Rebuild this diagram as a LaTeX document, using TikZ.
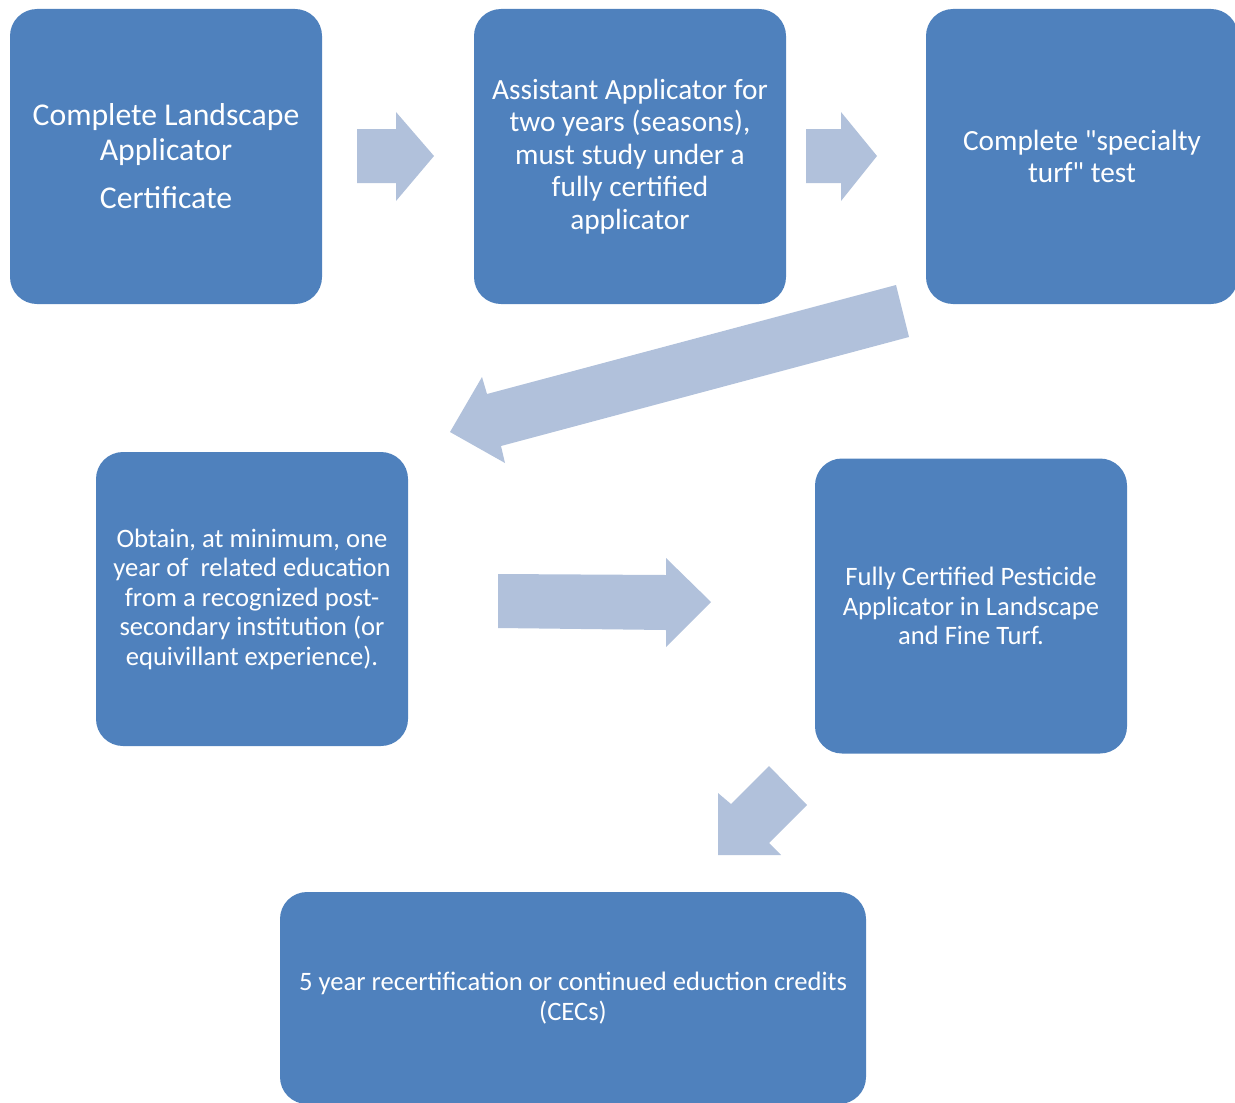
\documentclass[tikz,border=0pt]{standalone}
\usepackage{fontspec}
\setmainfont{Carlito}[Ligatures=TeXOff]
\usetikzlibrary{positioning}
\definecolor{boxblue}{HTML}{4F81BD}
\definecolor{arrowblue}{HTML}{B1C1DB}

\begin{document}
\begin{tikzpicture}[x=0.5pt,y=-0.5pt]
\tikzstyle{stage}=[fill=boxblue, rounded corners=13.5pt, inner sep=0pt, align=center, text=white, minimum width=156pt, minimum height=147.5pt]
\tikzstyle{bigtext}=[font=\fontsize{15.85}{17.5}\selectfont]
\tikzstyle{midtext}=[font=\fontsize{14.65}{16.25}\selectfont]
\tikzstyle{smalltext}=[font=\fontsize{13.3}{14.75}\selectfont]
\useasboundingbox (0,0) rectangle (1235,1102);
\node [stage, bigtext] (cert) at (166,156.5) {Complete Landscape\\Applicator\\[6.5pt]Certificate};
\node [stage, midtext] (assist) at (630,156.5) {Assistant Applicator for\\two years (seasons),\\must study under a\\fully certified\\applicator};
\node [stage, midtext] (turf) at (1082,156.5) {Complete "specialty\\turf" test};
\node [stage, smalltext, minimum height=147pt] (educ) at (252,599) {Obtain, at minimum, one\\year of\ \ related education\\from a recognized post-\\secondary institution (or\\equivillant experience).};
\node [stage, smalltext] (full) at (971,606) {Fully Certified Pesticide\\Applicator in Landscape\\and Fine Turf.};
\node [stage, smalltext, minimum width=293pt, minimum height=106pt] (recert) at (573,998) {5 year recertification or continued eduction credits\\(CECs)};
\fill [arrowblue] (357,129) -- (396,129) -- (396,112) -- (434,156) -- (396,201) -- (396,183) -- (357,183) -- cycle;
\fill [arrowblue] (806,129) -- (841,129) -- (841,112) -- (877,156) -- (841,201) -- (841,183) -- (806,183) -- cycle;
\fill [arrowblue] (896,285) -- (909,337) -- (501,446) -- (505,463) -- (450,432) -- (482,377) -- (487,394) -- cycle;
\fill [arrowblue] (498,574) -- (666,575) -- (666,558) -- (711,602) -- (666,647) -- (666,630) -- (498,628) -- cycle;
\fill [arrowblue] (769,766) -- (807,805) -- (769,843) -- (781,855) -- (718,855) -- (718,793) -- (731,804) -- cycle;
\end{tikzpicture}
\end{document}
